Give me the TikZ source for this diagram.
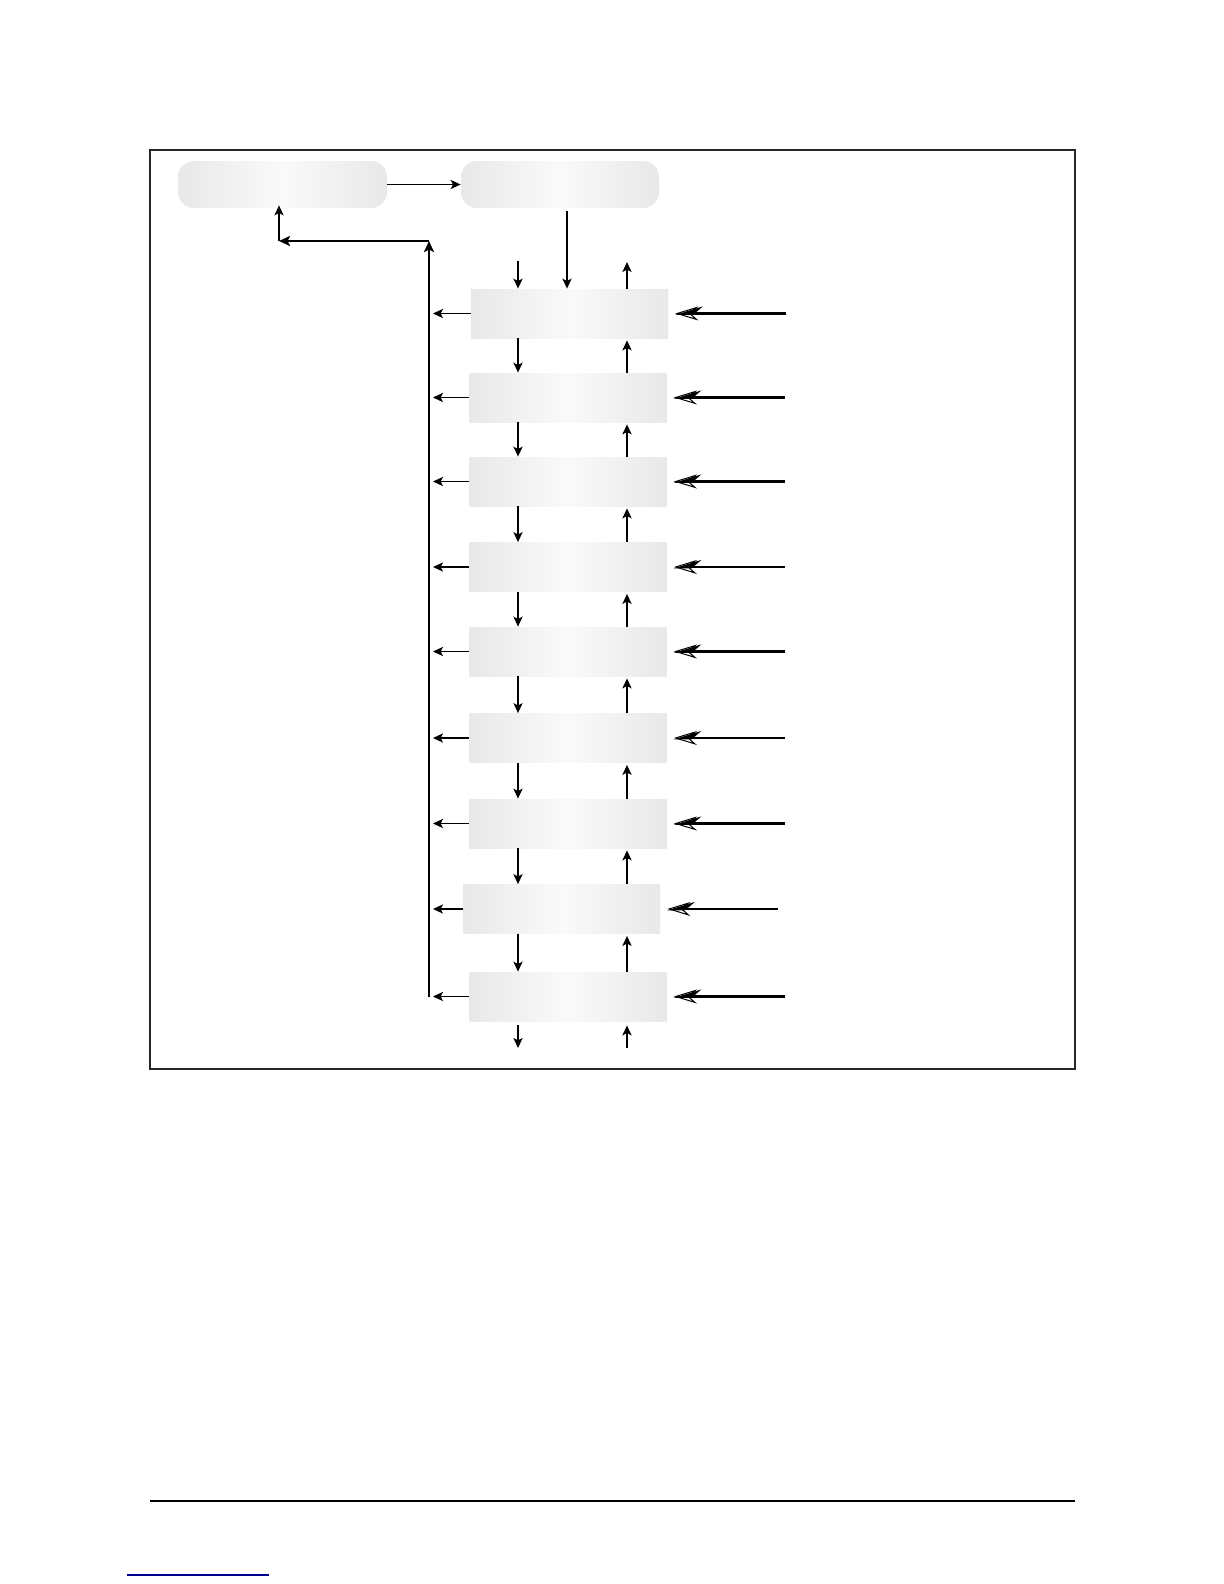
\documentclass[tikz,border=0pt]{standalone}
\usetikzlibrary{arrows.meta}
\begin{document}
\begin{tikzpicture}[x=0.5pt,y=-0.5pt]

    \tikzset{
      arr/.style={
        color={black},
        line width=0.7pt,
        >={Stealth[length=5pt,width=4.6pt,inset=1.2pt]},
        ->,
      },
      bus/.style={
        color={black},
        line width=1.4pt,
        >={Stealth[length=5.5pt,width=5pt,inset=1.2pt]},
        ->,
      },
      feed/.style={
        color={black},
        line width=1.3pt,
        -{Stealth[open,length=11.5pt,width=7pt,inset=4pt,line width=0.5pt]},
        postaction={draw,-{Stealth[harpoon,swap,length=11.5pt,width=7pt,inset=4pt]}},
      },
      stage/.style={
        shade,
        left color=black!9,
        right color=black!9,
        middle color=black!2,
        minimum width=98.5pt,
        minimum height=24.5pt,
        inner sep=0pt,
      },
      term/.style={
        stage,
        rounded corners=8pt,
        minimum height=23.5pt,
      },
    }
    \useasboundingbox (0,0) rectangle (1224,1584);

	\draw[color ={black!85},line width = 0.8pt] (150,150) rectangle (1075,1069);
	\draw[color ={black},line width = 0.8pt] (150,1501)--(1075,1501);
	\draw[color ={blue!55!black},line width = 1pt] (127,1575)--(269,1575);

	\node[term,minimum width=104.5pt] (start) at (282.5,184.5) {};
	\node[term,minimum width=99pt] (mux) at (560,184.5) {};
	\node[stage] (s1) at (569.5,313.5) {};
	\node[stage] (s2) at (568,397.5) {};
	\node[stage] (s3) at (568,481.5) {};
	\node[stage] (s4) at (568,567) {};
	\node[stage] (s5) at (568,651.5) {};
	\node[stage] (s6) at (568,738) {};
	\node[stage] (s7) at (568,823.5) {};
	\node[stage] (s8) at (561.5,909) {};
	\node[stage] (s9) at (568,996.5) {};

	\coordinate (dn) at (518,0);
	\coordinate (up) at (627,0);
	\coordinate (rail) at (429,0);
	\coordinate (railtop) at (429,241);
	\coordinate (turn) at (279,241);
	\coordinate (in1) at (518,261);
	\coordinate (out1) at (627,262);
	\coordinate (in9) at (518,1048);
	\coordinate (out9) at (627,1048);

	\draw[arr] (start.east)--(mux.west);
	\draw[arr] ([yshift=-1.5pt]mux.south -| 567,0)--(s1.north -| 567,0);
	\draw[arr] (in1)--(in1 |- s1.north);
	\draw[arr] (out1 |- s1.north)--(out1);

	\draw[arr] (dn |- s1.south)--(dn |- s2.north);
	\draw[arr] (dn |- s2.south)--(dn |- s3.north);
	\draw[arr] (dn |- s3.south)--(dn |- s4.north);
	\draw[arr] (dn |- s4.south)--(dn |- s5.north);
	\draw[arr] (dn |- s5.south)--(dn |- s6.north);
	\draw[arr] (dn |- s6.south)--(dn |- s7.north);
	\draw[arr] (dn |- s7.south)--(dn |- s8.north);
	\draw[arr] (dn |- s8.south)--(dn |- s9.north);
	\draw[arr,shorten <=2pt] (dn |- s9.south)--(in9);

	\draw[arr] (up |- s2.north)--([yshift=-1pt]up |- s1.south);
	\draw[arr] (up |- s3.north)--([yshift=-1pt]up |- s2.south);
	\draw[arr] (up |- s4.north)--([yshift=-1pt]up |- s3.south);
	\draw[arr] (up |- s5.north)--([yshift=-1pt]up |- s4.south);
	\draw[arr] (up |- s6.north)--([yshift=-1pt]up |- s5.south);
	\draw[arr] (up |- s7.north)--([yshift=-1pt]up |- s6.south);
	\draw[arr] (up |- s8.north)--([yshift=-1pt]up |- s7.south);
	\draw[arr] (up |- s9.north)--([yshift=-1pt]up |- s8.south);
	\draw[arr] (out9)--([yshift=-2pt]up |- s9.south);

	\draw[arr] (s1.west)--([xshift=2pt]rail |- s1.west);
	\draw[arr] (s2.west)--([xshift=2pt]rail |- s2.west);
	\draw[arr] (s3.west)--([xshift=2pt]rail |- s3.west);
	\draw[arr] (s4.west)--([xshift=2pt]rail |- s4.west);
	\draw[arr] (s5.west)--([xshift=2pt]rail |- s5.west);
	\draw[arr] (s6.west)--([xshift=2pt]rail |- s6.west);
	\draw[arr] (s7.west)--([xshift=2pt]rail |- s7.west);
	\draw[arr] (s8.west)--([xshift=2pt]rail |- s8.west);
	\draw[arr] (s9.west)--([xshift=2pt]rail |- s9.west);

	\draw[bus] (rail |- s9.west)--(railtop);
	\draw[bus] (railtop)--(turn);
	\draw[arr] (turn)--([yshift=1.5pt]start.south -| turn);

	\draw[feed] ([xshift=59pt]s1.east)--([xshift=3.5pt]s1.east);
	\draw[feed] ([xshift=59pt]s2.east)--([xshift=3.5pt]s2.east);
	\draw[feed] ([xshift=59pt]s3.east)--([xshift=3.5pt]s3.east);
	\draw[feed] ([xshift=59pt]s4.east)--([xshift=3.5pt]s4.east);
	\draw[feed] ([xshift=59pt]s5.east)--([xshift=3.5pt]s5.east);
	\draw[feed] ([xshift=59pt]s6.east)--([xshift=3.5pt]s6.east);
	\draw[feed] ([xshift=59pt]s7.east)--([xshift=3.5pt]s7.east);
	\draw[feed] ([xshift=59pt]s8.east)--([xshift=3.5pt]s8.east);
	\draw[feed] ([xshift=59pt]s9.east)--([xshift=3.5pt]s9.east);

\end{tikzpicture}
\end{document}
